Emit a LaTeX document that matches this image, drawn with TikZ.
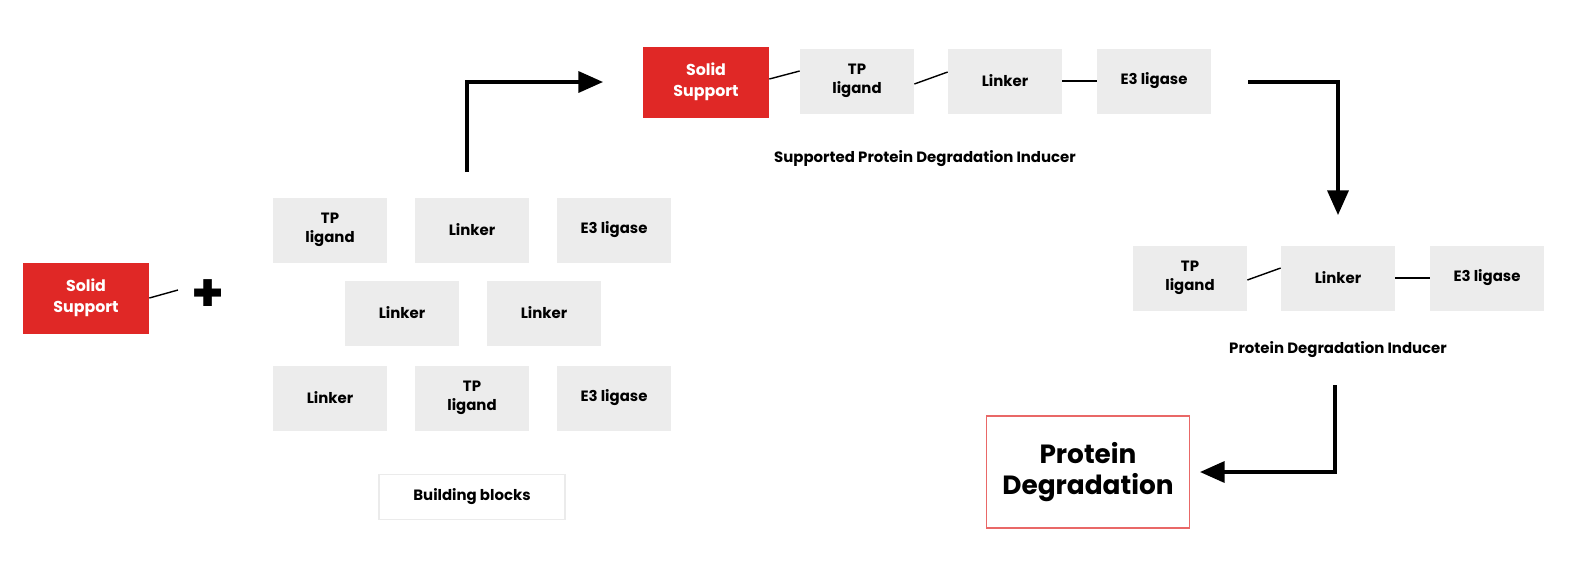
\documentclass[tikz,border=0pt]{standalone}
\usepackage{fontspec}
\setmainfont{Poppins}
\usetikzlibrary{arrows.meta}
\definecolor{boxgray}{HTML}{ECECEC}
\definecolor{ssred}{HTML}{E02826}
\begin{document}
\begin{tikzpicture}[x=0.02cm,y=-0.02cm,
  blk/.style={fill=boxgray,draw=none,minimum width=2.28cm,minimum height=1.3cm,align=center,font=\fontsize{8.5}{10.5}\selectfont\bfseries,inner sep=0pt},
  ss/.style={fill=ssred,draw=none,minimum width=2.52cm,minimum height=1.42cm,align=center,text=white,font=\fontsize{9}{12}\selectfont\bfseries,inner sep=0pt},
  lbl/.style={font=\fontsize{8.5}{10}\selectfont\bfseries,inner sep=0pt},
  con/.style={line width=0.8pt},
  flow/.style={line width=1.8pt,-{Triangle[length=14pt,width=12pt]}}]
\useasboundingbox (0,0) rectangle (1573,576);
\node[ss] (ss1) at (86,298) {Solid\\Support};
\coordinate (ssend) at (178,290);
\draw[con] (ss1.east) -- (ssend);
\node[font=\fontsize{30}{30}\selectfont\bfseries] (plus) at (208,296) {+};
% building blocks
\node[blk] (b1) at (330,230) {TP\\ligand};
\node[blk] (b2) at (472,230) {Linker};
\node[blk] (b3) at (614,230) {E3 ligase};
\node[blk] (b4) at (402,313) {Linker};
\node[blk] (b5) at (544,313) {Linker};
\node[blk] (b6) at (330,398) {Linker};
\node[blk] (b7) at (472,398) {TP\\ligand};
\node[blk] (b8) at (614,398) {E3 ligase};
\node[draw=black!8,line width=0.6pt,minimum width=3.72cm,minimum height=0.9cm,lbl] (bb) at (472,497) {Building blocks};
% top chain
\node[ss] (ss2) at (706,82) {Solid\\Support};
\node[blk] (t1) at (857,81) {TP\\ligand};
\node[blk] (t2) at (1005,81) {Linker};
\node[blk] (t3) at (1154,81) {E3 ligase};
\draw[con] ([yshift=0.06cm]ss2.east) -- ([yshift=0.2cm]t1.west);
\draw[con] ([yshift=-0.06cm]t1.east) -- ([yshift=0.18cm]t2.west);
\draw[con] (t2.east) -- (t3.west);
\node[lbl] (sl) at (925,159) {Supported Protein Degradation Inducer};
% right chain
\node[blk] (r1) at (1190,278) {TP\\ligand};
\node[blk] (r2) at (1338,278) {Linker};
\node[blk] (r3) at (1487,278) {E3 ligase};
\draw[con] ([yshift=-0.04cm]r1.east) -- ([yshift=0.2cm]r2.west);
\draw[con] (r2.east) -- (r3.west);
\node[lbl] (rl) at (1338,350) {Protein Degradation Inducer};
% result
\node[draw=ssred!70,line width=0.6pt,minimum width=4.06cm,minimum height=2.24cm,align=center,font=\fontsize{15}{18}\selectfont\bfseries] (pd) at (1088,472) {Protein\\Degradation};
% arrows
\coordinate (a1) at (467,172);
\coordinate (a2) at (603,82);
\draw[flow] (a1) |- (a2);
\coordinate (a3) at (1248,82);
\coordinate (a4) at (1338,215);
\draw[flow] (a3) -| (a4);
\coordinate (a5) at (1335,385);
\draw[flow,shorten >=0.2cm] (a5) |- (pd.east);
\end{tikzpicture}
\end{document}
